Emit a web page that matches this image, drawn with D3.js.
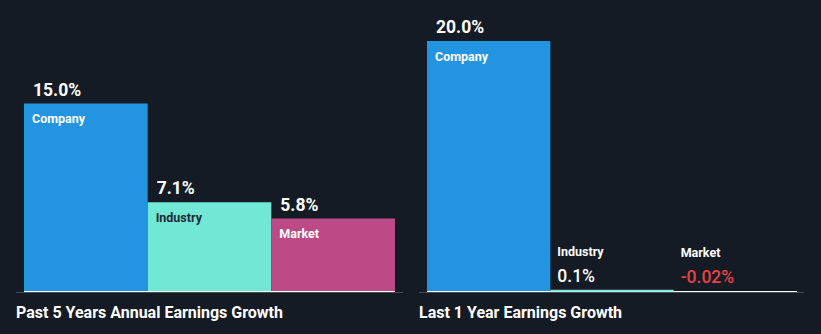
<!DOCTYPE html>
<html><head><meta charset="utf-8">
<script src="https://cdn.jsdelivr.net/npm/d3@7"></script>
<style>
html,body{margin:0;padding:0;background:#151b24;}
svg{display:block;font-family:Roboto,"Noto Sans",sans-serif;}
</style></head>
<body>
<script>
const categories = ["Company", "Industry", "Market"];
const past5Values = [15.0, 7.1, 5.8];
const past5Labels = ["15.0%", "7.1%", "5.8%"];
const last1Values = [20.0, 0.1, -0.02];
const last1Labels = ["20.0%", "0.1%", "-0.02%"];
const panelTitles = ["Past 5 Years Annual Earnings Growth", "Last 1 Year Earnings Growth"];

const W = 821, H = 334;
const colors = {Company: "#2394df", Industry: "#71e7d6", Market: "#bb4a86"};
const nameColors = {Company: "#ffffff", Industry: "#1b2a33", Market: "#ffffff"};

const svg = d3.select("body").append("svg").attr("width", W).attr("height", H);
svg.append("rect").attr("width", W).attr("height", H).attr("fill", "#151b24");

const y = d3.scaleLinear().domain([0, 20]).range([291, 41]);

const panels = [
  {values: past5Values, labels: past5Labels, title: panelTitles[0], x0: 24, x1: 395, ax0: 16, ax1: 403, tx: 16},
  {values: last1Values, labels: last1Labels, title: panelTitles[1], x0: 427, x1: 797, ax0: 419, ax1: 804, tx: 419}
];

panels.forEach(p => {
  const g = svg.append("g");
  const x = d3.scaleBand().domain(categories).range([p.x0, p.x1]).padding(0);
  g.append("line").attr("x1", p.ax0).attr("x2", p.ax1).attr("y1", 292.5).attr("y2", 292.5)
    .attr("stroke", "#474d57").attr("stroke-width", 1);
  g.append("line").attr("x1", p.x0).attr("x2", p.x1).attr("y1", 291.5).attr("y2", 291.5)
    .attr("stroke", "#ffffff").attr("stroke-width", 1);

  categories.forEach((c, i) => {
    const v = p.values[i];
    const top = y(Math.max(0, v));
    const bot = y(Math.min(0, v));
    if (v > 0) {
      g.append("rect").attr("x", x(c)).attr("y", top).attr("width", x.bandwidth())
        .attr("height", Math.max(0, bot - top) + (bot - top < 3 ? 0.5 : 0)).attr("fill", colors[c]);
    }
    const tall = (bot - top) > 40;
    const lx = x(c) + 8;
    const valColor = v < 0 ? "#e64343" : "#ffffff";
    if (tall) {
      g.append("text").attr("x", lx + 1).attr("y", top - 8).attr("fill", valColor)
        .attr("font-size", 17.5).attr("font-weight", 700).text(p.labels[i]);
      g.append("text").attr("x", lx).attr("y", top + 19.5).attr("fill", nameColors[c])
        .attr("font-size", 12.5).attr("font-weight", 700).text(c);
    } else {
      g.append("text").attr("x", lx - 1).attr("y", top - 8).attr("fill", valColor)
        .attr("font-size", 17.5).attr("font-weight", 500).text(p.labels[i]);
      g.append("text").attr("x", lx - 1).attr("y", top - 34).attr("fill", "#ffffff")
        .attr("font-size", 12.5).attr("font-weight", 700).text(c);
    }
  });

  g.append("text").attr("x", p.tx).attr("y", 317.5).attr("fill", "#ffffff")
    .attr("font-size", 16).attr("font-weight", 700).text(p.title);
});
</script>
</body></html>
